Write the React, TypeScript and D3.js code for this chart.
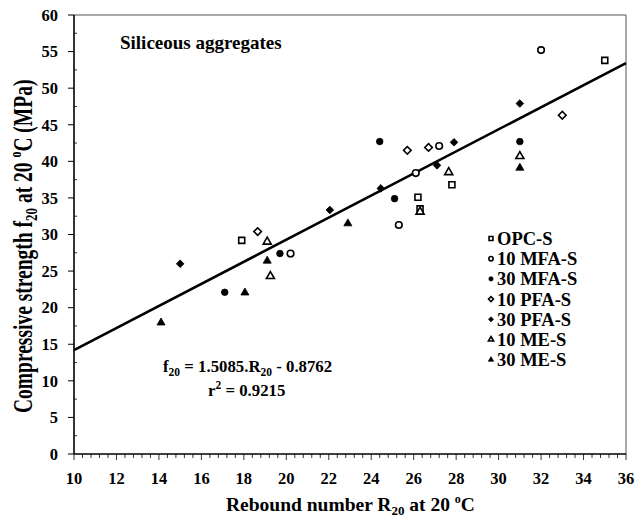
import React from "react";
import * as d3 from "d3";

// ---- data (Rebound number R20, compressive strength f20 MPa) ----
const seriesNames = ["OPC-S", "10 MFA-S", "30 MFA-S", "10 PFA-S", "30 PFA-S", "10 ME-S", "30 ME-S"];
const opcS: [number, number][] = [[17.9, 29.2], [26.2, 35.1], [26.3, 33.5], [27.8, 36.8], [35.0, 53.8]];
const mfa10: [number, number][] = [[20.2, 27.4], [25.3, 31.3], [26.1, 38.4], [27.2, 42.1], [32.0, 55.2]];
const mfa30: [number, number][] = [[17.1, 22.1], [19.7, 27.4], [24.4, 42.7], [25.1, 34.9], [31.0, 42.7]];
const pfa10: [number, number][] = [[18.65, 30.4], [25.7, 41.5], [26.7, 41.9], [33.0, 46.3]];
const pfa30: [number, number][] = [[15.0, 26.0], [22.05, 33.35], [24.45, 36.3], [27.1, 39.45], [27.9, 42.6], [31.0, 47.9]];
const me10: [number, number][] = [[19.1, 29.0], [19.25, 24.3], [26.3, 33.1], [27.65, 38.5], [31.0, 40.7]];
const me30: [number, number][] = [[14.1, 17.95], [18.05, 22.05], [19.1, 26.4], [22.9, 31.5], [31.0, 39.1]];
const seriesData = [opcS, mfa10, mfa30, pfa10, pfa30, me10, me30];
const seriesShape = ["square", "circle", "circle", "diamond", "diamond", "triangle", "triangle"];
const seriesFilled = [false, false, true, false, true, false, true];

const slope = 1.5085;
const intercept = -0.8762;
const xDomain = [10, 36];
const yDomain = [0, 60];
const xTickLabels = [10, 12, 14, 16, 18, 20, 22, 24, 26, 28, 30, 32, 34, 36];
const yTickLabels = [0, 5, 10, 15, 20, 25, 30, 35, 40, 45, 50, 55, 60];

const FONT = "'Liberation Serif', 'Times New Roman', serif";

function symbolPath(shape: string, scale: number) {
  const s = scale;
  if (shape === "square") return d3.symbol(d3.symbolSquare, 36 * s * s)()!;
  if (shape === "circle") return d3.symbol(d3.symbolCircle, 34 * s * s)()!;
  if (shape === "diamond") return d3.symbol(d3.symbolSquare, 29 * s * s)()!;
  return d3.symbol(d3.symbolTriangle, 28 * s * s)()!;
}

function Marker({ shape, filled, x, y, scale }: { shape: string; filled: boolean; x: number; y: number; scale: number }) {
  const rot = shape === "diamond" ? " rotate(45)" : "";
  return (
    <path
      d={symbolPath(shape, scale)}
      transform={`translate(${x},${y})${rot}`}
      fill={filled ? "#000" : "#fff"}
      stroke="#000"
      strokeWidth={filled ? 0.8 : 1.6}
    />
  );
}

export default function App() {
  const W = 637, H = 520;
  const x = d3.scaleLinear().domain(xDomain).range([74, 626]);
  const y = d3.scaleLinear().domain(yDomain).range([454, 15]);

  const xMinor = d3.range(10, 36.001, 0.4);
  const yMinor = d3.range(2.5, 60, 5);

  const line = d3.line<number>().x((r) => x(r)).y((r) => y(slope * r + intercept));

  const legendX = 491;
  const legendY0 = 238.5;
  const legendStep = 20.2;

  return (
    <svg width={W} height={H} style={{ position: "absolute", left: 0, top: 0, background: "#fff" }} fontFamily={FONT}>
      <rect width={W} height={H} fill="#fff" />
      {/* frame top/right */}
      <line x1={x(10)} x2={x(36)} y1={y(60)} y2={y(60)} stroke="#555" strokeWidth={1} />
      <line x1={x(36)} x2={x(36)} y1={y(60)} y2={y(0)} stroke="#555" strokeWidth={1} />

      {/* y axis */}
      <line x1={x(10)} x2={x(10)} y1={y(60)} y2={y(0)} stroke="#000" strokeWidth={1.6} />
      {yTickLabels.map((v) => (
        <g key={"yt" + v}>
          <line x1={x(10) - 6} x2={x(10)} y1={y(v)} y2={y(v)} stroke="#000" strokeWidth={1} />
          <text x={58} y={y(v)} dy="0.35em" textAnchor="end" fontSize={16.5} fontWeight="bold">{v}</text>
        </g>
      ))}
      {yMinor.map((v) => (
        <line key={"ym" + v} x1={x(10)} x2={x(10) + 3} y1={y(v)} y2={y(v)} stroke="#000" strokeWidth={0.8} />
      ))}

      {/* x axis */}
      <line x1={x(10)} x2={x(36)} y1={y(0)} y2={y(0)} stroke="#000" strokeWidth={1.6} />
      {xMinor.map((v, i) => (
        <line key={"xm" + i} x1={x(v)} x2={x(v)} y1={y(0)} y2={y(0) + (i % 5 === 0 ? 6 : 4)} stroke="#000" strokeWidth={0.8} />
      ))}
      {xTickLabels.map((v) => (
        <text key={"xt" + v} x={x(v)} y={484} textAnchor="middle" fontSize={16.5} fontWeight="bold">{v}</text>
      ))}

      {/* axis titles */}
      <text x={226} y={511} fontSize={19.5} fontWeight="bold">
        Rebound number R<tspan dy={4} fontSize={13}>20</tspan><tspan dy={-4}> at 20 </tspan><tspan dy={-8} fontSize={12}>o</tspan><tspan dy={8}>C</tspan>
      </text>
      <text transform="translate(32,413) rotate(-90) scale(1,1.35)" fontSize={19.5} fontWeight="bold">
        Compressive strength  f<tspan dy={4} fontSize={13}>20</tspan><tspan dy={-4}> at 20 </tspan><tspan dy={-8} fontSize={12}>o</tspan><tspan dy={8}>C  (MPa)</tspan>
      </text>

      {/* regression line */}
      <path d={line(xDomain)!} fill="none" stroke="#000" strokeWidth={2.6} />

      {/* points */}
      {seriesData.map((pts, si) =>
        pts.map((p, pi) => (
          <Marker key={si + "-" + pi} shape={seriesShape[si]} filled={seriesFilled[si]} x={x(p[0])} y={y(p[1])} scale={1} />
        ))
      )}

      {/* annotations */}
      <text x={120} y={49} fontSize={19} fontWeight="bold">Siliceous aggregates</text>
      <text x={163} y={372} fontSize={16.8} fontWeight="bold">
        f<tspan dy={4} fontSize={11.5}>20</tspan><tspan dy={-4}> = 1.5085.R</tspan><tspan dy={4} fontSize={11.5}>20</tspan><tspan dy={-4}> - 0.8762</tspan>
      </text>
      <text x={208} y={396} fontSize={16.8} fontWeight="bold">
        r<tspan dy={-7} fontSize={11.5}>2</tspan><tspan dy={7}> = 0.9215</tspan>
      </text>

      {/* legend */}
      {seriesNames.map((name, i) => (
        <g key={"lg" + i}>
          <Marker shape={seriesShape[i]} filled={seriesFilled[i]} x={legendX} y={legendY0 + i * legendStep} scale={0.65} />
          <text x={legendX + 6} y={legendY0 + i * legendStep} dy="0.35em" fontSize={18.5} fontWeight="bold">{name}</text>
        </g>
      ))}
    </svg>
  );
}
